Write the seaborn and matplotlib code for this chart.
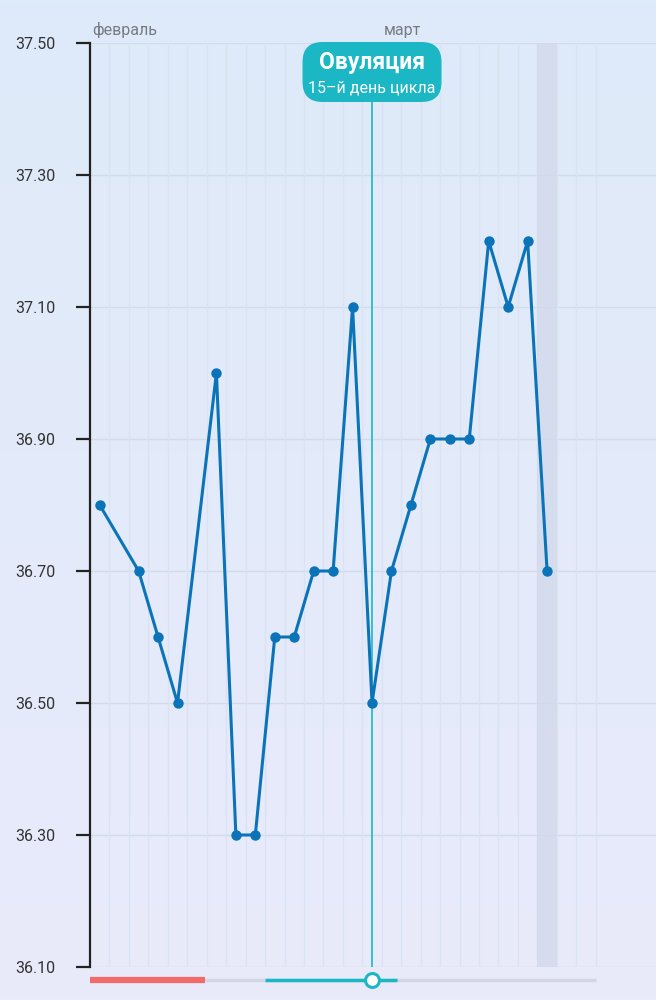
import numpy as np
import matplotlib
matplotlib.use("Agg")
import matplotlib.pyplot as plt
from matplotlib.patches import FancyBboxPatch
from matplotlib.transforms import IdentityTransform
import seaborn as sns

# Données : jours du cycle et températures
jours = [1, 3, 4, 5, 7, 8, 9, 10, 11, 12, 13, 14, 15, 16, 17, 18, 19, 20, 21, 22, 23, 24]
temperatures = [36.8, 36.7, 36.6, 36.5, 37.0, 36.3, 36.3, 36.6, 36.6, 36.7, 36.7, 37.1,
                36.5, 36.7, 36.8, 36.9, 36.9, 36.9, 37.2, 37.1, 37.2, 36.7]
y_ticks = [36.1, 36.3, 36.5, 36.7, 36.9, 37.1, 37.3, 37.5]
mois = ["февраль", "март"]
mois_debut = [1, 16]
nb_jours = 26
jour_ovulation = 15
jour_actuel = 24
regles = (0, 5.9)
fertile = (9, 15.8)
titre_ovulation = "Овуляция"
sous_titre_ovulation = "15–й день цикла"

sns.set_style("white")
plt.rcParams['font.family'] = ['Roboto', 'DejaVu Sans']

bleu = "#0b74b8"
turquoise = "#1cb7c4"

fig = plt.figure(figsize=(6.56, 10), dpi=100)

# fond en dégradé
bg = fig.add_axes([0, 0, 1, 1])
grad = np.linspace(0, 1, 256).reshape(-1, 1)
haut = np.array([222, 235, 249]) / 255
bas = np.array([233, 234, 251]) / 255
img = haut + (bas - haut) * grad[..., None]
bg.imshow(img, aspect="auto", extent=[0, 1, 0, 1])
bg.axis("off")

ax = fig.add_axes([90 / 656, 33 / 1000, 566 / 656, 924 / 1000])
ax.patch.set_alpha(0)
x_max = 566 / 19.45
ax.set_xlim(0, x_max)
ax.set_ylim(36.1, 37.5)

# grille
for t in y_ticks:
    ax.axhline(t, color="#d2dbe9", lw=1, zorder=0)
for k in range(1, nb_jours + 1):
    ax.axvline(k, color="#d9e3f1", lw=1, zorder=0)
ax.axvspan(jour_actuel - 1, jour_actuel, color="#d2d9ea", alpha=0.8, lw=0, zorder=0)

# courbe des températures
sns.lineplot(x=np.array(jours) - 0.5, y=temperatures, ax=ax, color=bleu, lw=2.2,
             marker="o", markersize=7.5, markeredgewidth=0, zorder=3)

# axes
for s in ["top", "right", "bottom"]:
    ax.spines[s].set_visible(False)
ax.spines["left"].set_color("#222222")
ax.spines["left"].set_linewidth(1.6)
ax.set_yticks(y_ticks)
ax.set_yticklabels([f"{t:.2f}" for t in y_ticks], fontsize=11.5, color="#333333")
ax.tick_params(axis="y", length=10, width=1.6, color="#222222", pad=15, left=True)
ax.set_xticks([])
ax.set_xlabel("")
ax.set_ylabel("")

# noms des mois
for m, d in zip(mois, mois_debut):
    ax.text(d - 1 + 0.12, 37.5 + 0.007, m, fontsize=11.5, color="#777b82",
            ha="left", va="bottom")

# barre du cycle en bas
yb = 36.1 - 13 / 660
ax.plot([0, nb_jours], [yb, yb], color="#d3d6e4", lw=2.5, clip_on=False,
        solid_capstyle="butt", zorder=2)
ax.plot(regles, [yb, yb], color="#f26b6b", lw=4.5, clip_on=False,
        solid_capstyle="butt", zorder=3)
ax.plot(fertile, [yb, yb], color=turquoise, lw=2.5, clip_on=False,
        solid_capstyle="butt", zorder=3)
ax.plot([jour_ovulation - 0.5], [yb], marker="o", markersize=10, markerfacecolor="white",
        markeredgecolor=turquoise, markeredgewidth=2.2, clip_on=False, zorder=4)

# ligne et étiquette de l'ovulation
x_ov = jour_ovulation - 0.5
ax.axvline(x_ov, ymin=0, ymax=(1000 - 102 - 33) / 924 + 0.002, color=turquoise, lw=1.2, zorder=2)
fig.canvas.draw()
xp = ax.transData.transform((x_ov, 37))[0]
r = 20
box = FancyBboxPatch((xp - 69.5 + r, 898 + r), 139 - 2 * r, 60 - 2 * r,
                     boxstyle=f"round,pad={r}", transform=IdentityTransform(),
                     facecolor=turquoise, edgecolor="none", zorder=5)
fig.add_artist(box)
fig.text(xp / 656, 1 - 62 / 1000, titre_ovulation, ha="center", va="center",
         fontsize=16.5, fontweight="bold", color="white", zorder=6)
fig.text(xp / 656, 1 - 88 / 1000, sous_titre_ovulation, ha="center", va="center",
         fontsize=11.5, color="white", zorder=6)

fig.savefig("out.png", dpi=100)
